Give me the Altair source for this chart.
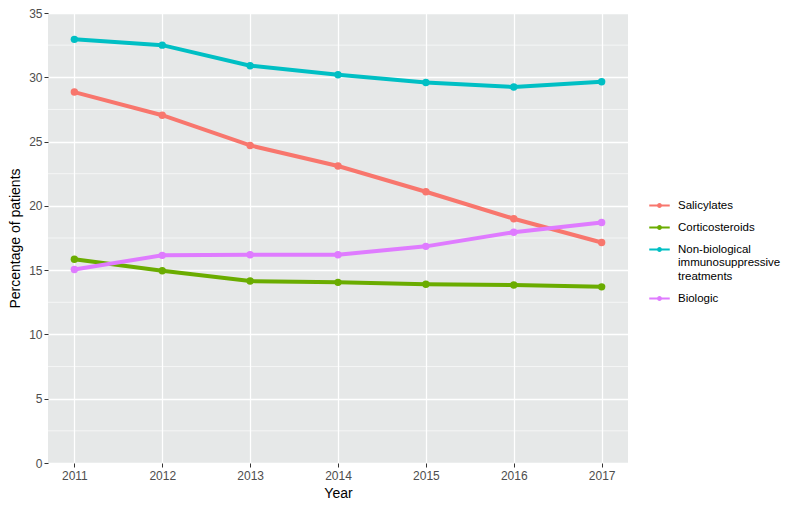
import altair as alt
import pandas as pd

years = [2011, 2012, 2013, 2014, 2015, 2016, 2017]
salicylates = [28.85, 27.05, 24.7, 23.1, 21.1, 19.0, 17.15]
corticosteroids = [15.85, 14.95, 14.15, 14.05, 13.9, 13.85, 13.7]
non_biological = [32.95, 32.5, 30.9, 30.2, 29.6, 29.25, 29.65]
biologic = [15.05, 16.15, 16.2, 16.2, 16.85, 17.95, 18.7]

series_names = ["Salicylates", "Corticosteroids",
                "Non-biological immunosuppressive treatments", "Biologic"]
series_colors = ["#F8766D", "#6AAC00", "#00BFC4", "#DF7BFF"]
y_ticks = [0, 5, 10, 15, 20, 25, 30, 35]
y_minor = [2.5, 7.5, 12.5, 17.5, 22.5, 27.5, 32.5]

rows = []
for name, vals in zip(series_names, [salicylates, corticosteroids, non_biological, biologic]):
    for yr, v in zip(years, vals):
        rows.append({"Year": yr, "Value": v, "Treatment": name})
df = pd.DataFrame(rows)
minor_df = pd.DataFrame({"Value": y_minor})

FONT = "Liberation Sans"

x_scale = alt.Scale(domain=[2010.7, 2017.3], nice=False, zero=False)
y_scale = alt.Scale(domain=[0, 35], nice=False)
color_scale = alt.Scale(domain=series_names, range=series_colors)

x_axis = alt.Axis(values=years, format="d", grid=True, gridColor="white",
                  gridWidth=1.3, domain=False, tickColor="#333333",
                  tickSize=4, labelColor="#4D4D4D", labelFontSize=12,
                  labelPadding=3, titleFontSize=14, titleFontWeight="normal",
                  titleColor="black", titlePadding=5, labelFont=FONT,
                  titleFont=FONT)
y_axis = alt.Axis(values=y_ticks, grid=True, gridColor="white",
                  gridWidth=1.3, domain=False, tickColor="#333333",
                  tickSize=4, labelColor="#4D4D4D", labelFontSize=12,
                  labelPadding=2, titleFontSize=14, titleFontWeight="normal",
                  titleColor="black", titlePadding=6, labelFont=FONT,
                  titleFont=FONT)

x_enc = alt.X("Year:Q", scale=x_scale, title="Year", axis=x_axis)
y_enc = alt.Y("Value:Q", scale=y_scale, title="Percentage of patients", axis=y_axis)

minor = alt.Chart(minor_df).mark_rule(color="white", strokeWidth=0.6).encode(
    y=y_enc
)

legend_path = ("M-1,-0.1H1V0.1H-1Z "
               "M0.24,0A0.24,0.24 0 1,1 -0.24,0A0.24,0.24 0 1,1 0.24,0Z")

lines = alt.Chart(df).mark_line(strokeWidth=4).encode(
    x=x_enc, y=y_enc,
    color=alt.Color("Treatment:N", scale=color_scale, legend=None),
    detail="Treatment:N",
)

points = alt.Chart(df).mark_point(filled=True, size=55, opacity=1).encode(
    x=x_enc, y=y_enc,
    color=alt.Color("Treatment:N", scale=color_scale,
                    legend=alt.Legend(
                        title=None, orient="none", legendX=601, legendY=182,
                        symbolType=legend_path, symbolSize=420,
                        symbolStrokeWidth=0, symbolOpacity=1,
                        labelFont=FONT, labelFontSize=11.5, labelColor="black",
                        labelLimit=300, rowPadding=6, labelOffset=8,
                        labelExpr="datum.label == 'Non-biological immunosuppressive treatments' ? ['Non-biological', 'immunosuppressive', 'treatments'] : datum.label",
                    )),
)

chart = alt.layer(minor, lines, points).resolve_legend(color="independent").properties(
    width=580, height=450,
    autosize=alt.AutoSizeParams(type="none"),
    padding={"left": 40, "top": 5, "right": 157, "bottom": 41},
    background="white",
).configure_view(fill="#E6E8E8", stroke=None)

chart.save("out.html", embed_options={"renderer": "svg", "actions": False})
